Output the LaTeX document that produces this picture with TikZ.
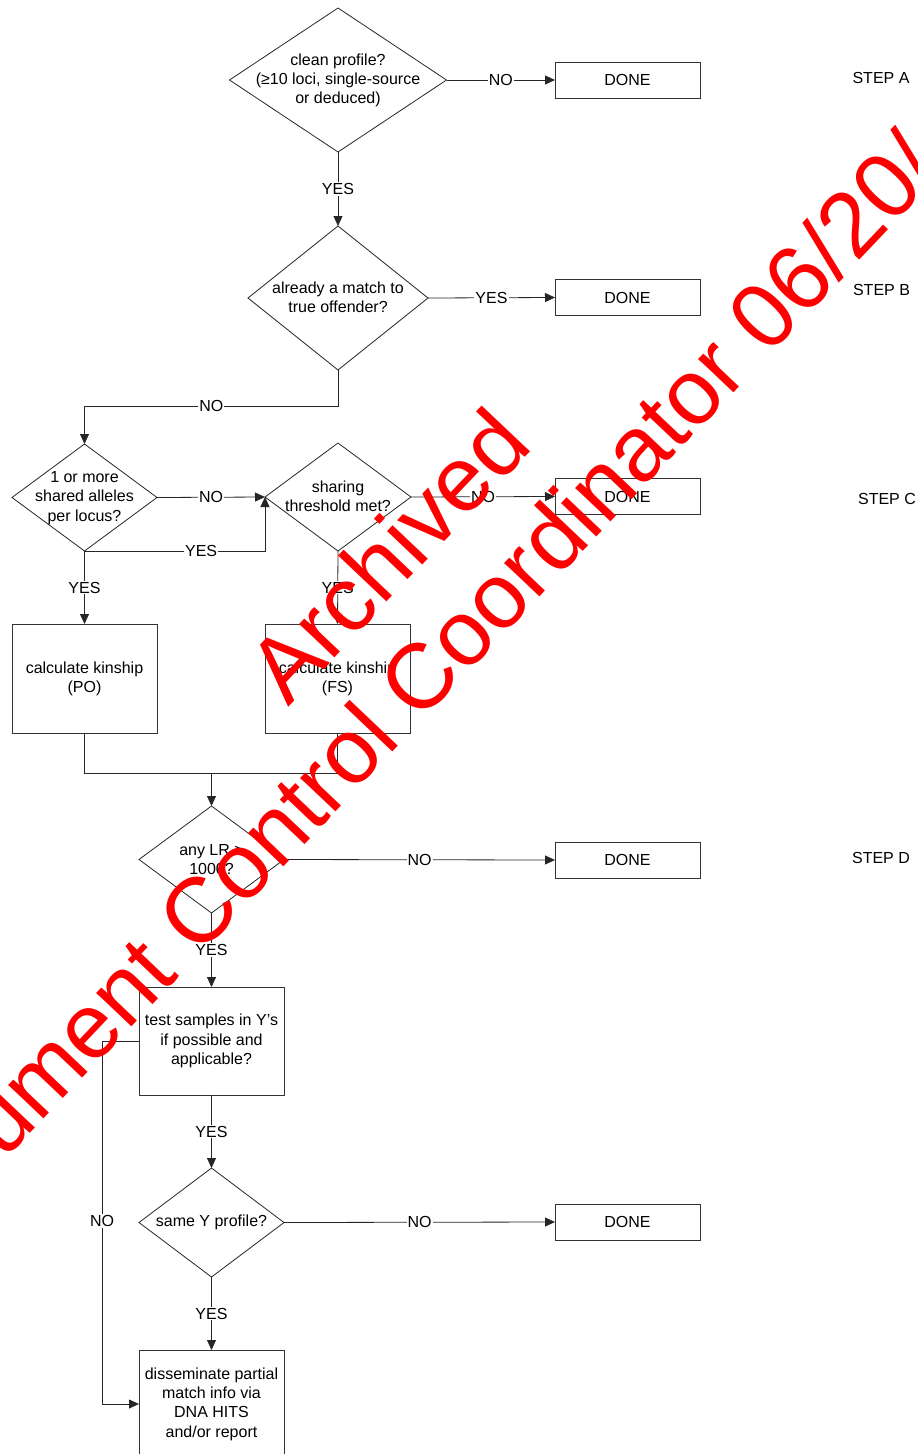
\documentclass[tikz,border=0pt]{standalone}
\usepackage{fontspec}
\setmainfont{Liberation Sans}
\usetikzlibrary{shapes.geometric,arrows.meta}
\begin{document}
\begin{tikzpicture}[x=1pt,y=-1pt,
  every node/.style={font=\fontsize{16}{19.3}\selectfont, inner sep=0pt, outer sep=0pt},
  dia/.style={diamond, draw=black!85, line width=0.8pt},
  box/.style={rectangle, draw=black!80, line width=0.9pt, minimum width=145pt, align=center},
  donebox/.style={box, minimum height=36pt},
  txt/.style={align=center},
  lab/.style={fill=white, inner sep=1pt},
  conn/.style={draw=black!85, line width=0.8pt},
  arr/.style={conn, -{Triangle[length=10pt,width=9pt]}},
  wm/.style={text=red, font=\fontsize{92}{106}\selectfont, rotate=46.5, anchor=base west}
]
\useasboundingbox (0,0) rectangle (918,1454);
\clip (0,0) rectangle (918,1454);

% decision diamonds
\node[dia, minimum width=217pt, minimum height=144pt] (d1) at (338,80) {};
\node[txt] (d1t) at (338,80.5) {clean profile?\\(≥10 loci, single-source\\or deduced)};
\node[dia, minimum width=180pt, minimum height=144pt] (d2) at (338,298) {};
\node[txt] (d2t) at (338,297.5) {already a match to\\true offender?};
\node[dia, minimum width=145pt, minimum height=107pt] (d3) at (84.5,497.5) {};
\node[txt] (d3t) at (84.5,498) {1 or more\\shared alleles\\per locus?};
\node[dia, minimum width=146pt, minimum height=108pt] (d4) at (338,497) {};
\node[txt] (d4t) at (338,496.5) {sharing\\threshold met?};
\node[dia, minimum width=145pt, minimum height=107pt] (d5) at (211.5,859.5) {};
\node[txt] (d5t) at (211.5,859.5) {any LR >\\1000?};
\node[dia, minimum width=145pt, minimum height=109pt] (d6) at (211.5,1222.5) {};
\node[txt] (d6t) at (211.5,1222) {same Y profile?};

% boxes
\node[donebox] (doneA) at (627.5,80) {DONE};
\node[donebox] (doneB) at (627.5,297.5) {DONE};
\node[donebox] (doneC) at (627.5,496.5) {DONE};
\node[donebox] (doneD) at (627.5,860) {DONE};
\node[donebox] (doneE) at (627.5,1222) {DONE};
\node[box, minimum height=109pt] (po) at (84.5,678.5) {calculate kinship\\(PO)};
\node[box, minimum height=109pt] (fs) at (337.5,678.5) {calculate kinship\\(FS)};
\node[box, minimum height=108pt] (test) at (211.5,1041) {test samples in Y’s\\if possible and\\applicable?};
\node[box, minimum height=108pt] (dis) at (211.5,1404) {disseminate partial\\match info via\\DNA HITS\\and/or report};

% step labels
\node (stA) at (881,78) {STEP A};
\node (stB) at (881.5,290) {STEP B};
\node (stC) at (887,499) {STEP C};
\node (stD) at (881,858) {STEP D};

% connectors
\draw[arr] (d1.east) -- node[lab] {NO} (doneA.west);
\draw[arr] (d1.south) -- node[lab] {YES} (d2.north);
\draw[arr] (d2.east) -- node[lab] {YES} (doneB.west);
\draw[arr] (d2.south) -- ++(0,36) -| node[lab, pos=0.25] {NO} (d3.north);
\draw[arr] (d3.east) -- node[lab] {NO} (d4.west);
\draw[arr] (d3.south) -| node[lab, pos=0.323] {YES} (d4.west);
\draw[arr] (d3.south) -- node[lab] {YES} (po.north);
\draw[arr] (d4.east) -- node[lab] {NO} (doneC.west);
\draw[arr] (d4.south) -- node[lab] {YES} (fs.north);
\coordinate (j) at (211.5,773);
\draw[conn] (po.south) |- (j) -| (fs.south);
\draw[arr] (j) -- (d5.north);
\draw[arr] (d5.east) -- node[lab] {NO} (doneD.west);
\draw[arr] (d5.south) -- node[lab] {YES} (test.north);
\draw[arr] (test.west) -- ++(-37,0) |- node[lab, pos=0.248] {NO} (dis.west);
\draw[arr] (test.south) -- node[lab] {YES} (d6.north);
\draw[arr] (d6.east) -- node[lab] {NO} (doneE.west);
\draw[arr] (d6.south) -- node[lab] {YES} (dis.north);

% watermark
\node[wm] (wm1) at (288,707) {Archived};
\node[wm] (wm2) at (-108,1279.6) {Document Control Coordinator 06/20/};
\end{tikzpicture}
\end{document}
